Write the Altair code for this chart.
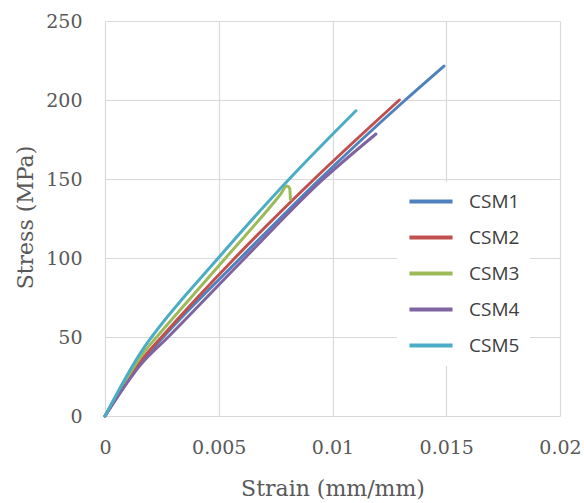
import altair as alt
import pandas as pd

# ---- data ----
series_names = ["CSM1", "CSM2", "CSM3", "CSM4", "CSM5"]
series_colors = ["#4F81BD", "#C0504D", "#9BBB59", "#8064A2", "#4BACC6"]

csm1_strain = [0, 0.0017, 0.00256, 0.00596, 0.00945, 0.0132, 0.0149]
csm1_stress = [0, 36, 50, 100, 150, 200, 221.5]

csm2_strain = [0, 0.0017, 0.00249, 0.00571, 0.0092, 0.01294]
csm2_stress = [0, 37, 50, 100, 150, 200]

csm3_strain = [0, 0.0018, 0.00227, 0.0053, 0.0077, 0.0080, 0.00812, 0.00815]
csm3_stress = [0, 42, 50, 100, 140, 145.5, 144, 137]

csm4_strain = [0, 0.0016, 0.00278, 0.00615, 0.0096, 0.01191]
csm4_stress = [0, 33, 50, 100, 150, 178.5]

csm5_strain = [0, 0.0017, 0.00205, 0.00498, 0.0081, 0.01103]
csm5_stress = [0, 43, 50, 100, 150, 193.2]

x_ticks = [0, 0.005, 0.01, 0.015, 0.02]
y_ticks = [0, 50, 100, 150, 200, 250]

rows = []
for name, xs, ys in zip(
    series_names,
    [csm1_strain, csm2_strain, csm3_strain, csm4_strain, csm5_strain],
    [csm1_stress, csm2_stress, csm3_stress, csm4_stress, csm5_stress],
):
    for i, (x, y) in enumerate(zip(xs, ys)):
        rows.append({"series": name, "strain": x, "stress": y, "idx": i})
df = pd.DataFrame(rows)

axis_common = dict(
    grid=True,
    gridColor="#D9D9D9",
    gridWidth=1.2,
    domain=False,
    ticks=False,
    labelFont="DejaVu Serif",
    labelFontSize=19,
    labelColor="#595959",
    titleFont="DejaVu Serif",
    titleFontSize=22,
    titleFontWeight="normal",
    titleColor="#595959",
    labelOverlap=False,
    labelFlush=False,
)

chart = (
    alt.Chart(df)
    .mark_line(strokeWidth=3, strokeCap="round", strokeJoin="round", interpolate="monotone")
    .encode(
        x=alt.X(
            "strain:Q",
            scale=alt.Scale(domain=[0, 0.02], nice=False),
            axis=alt.Axis(
                values=x_ticks,
                format="~g",
                title="Strain (mm/mm)",
                labelPadding=22,
                titleX=227.5,
                titleY=72,
                titleBaseline="middle",
                **axis_common,
            ),
        ),
        y=alt.Y(
            "stress:Q",
            scale=alt.Scale(domain=[0, 250], nice=False),
            axis=alt.Axis(
                values=y_ticks,
                title="Stress (MPa)",
                labelPadding=23,
                titleX=-80,
                titleY=196,
                titleAngle=270,
                titleBaseline="middle",
                titleAlign="center",
                **axis_common,
            ),
        ),
        color=alt.Color(
            "series:N",
            scale=alt.Scale(domain=series_names, range=series_colors),
            legend=alt.Legend(
                title=None,
                orient="none",
                legendX=292,
                legendY=161,
                fillColor="white",
                padding=10,
                symbolType="M-4,0H4",
                symbolSize=116,
                symbolStrokeWidth=4,
                symbolOffset=14.5,
                labelOffset=28.5,
                rowPadding=16,
                labelFont="Open Sans",
                labelFontSize=19,
                labelColor="#404040",
            ),
        ),
        order="idx:Q",
    )
    .properties(
        width=455,
        height=395,
        autosize=alt.AutoSizeParams(type="none"),
        padding={"left": 105, "top": 21, "right": 24, "bottom": 87},
        background="white",
    )
    .configure_view(strokeWidth=0)
)

chart.save("out.html", embed_options={"renderer": "svg", "actions": False})
